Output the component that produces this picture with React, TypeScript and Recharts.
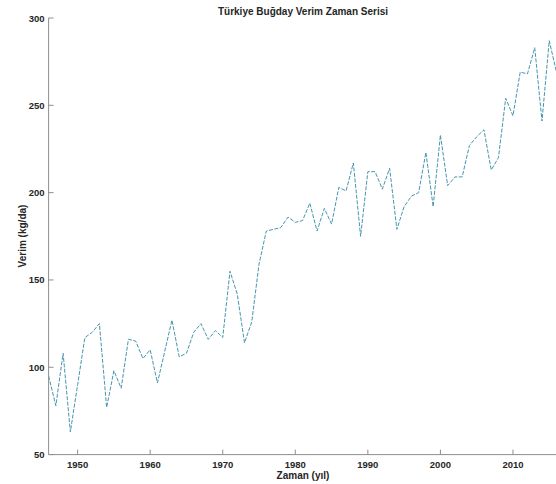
import { LineChart, Line, XAxis, YAxis } from 'recharts';

const years = [
  1946, 1947, 1948, 1949, 1950, 1951, 1952, 1953, 1954, 1955, 1956, 1957,
  1958, 1959, 1960, 1961, 1962, 1963, 1964, 1965, 1966, 1967, 1968, 1969,
  1970, 1971, 1972, 1973, 1974, 1975, 1976, 1977, 1978, 1979, 1980, 1981,
  1982, 1983, 1984, 1985, 1986, 1987, 1988, 1989, 1990, 1991, 1992, 1993,
  1994, 1995, 1996, 1997, 1998, 1999, 2000, 2001, 2002, 2003, 2004, 2005,
  2006, 2007, 2008, 2009, 2010, 2011, 2012, 2013, 2014, 2015, 2016
];

// verim, kg/da
const yields = [
  95, 78, 108, 63, 90, 117, 120, 125, 77, 98, 88, 116,
  115, 105, 110, 91, 109, 127, 106, 108, 120, 125, 116, 121,
  117, 155, 142, 114, 126, 159, 178, 179, 180, 186, 183, 184,
  194, 178, 191, 182, 203, 201, 217, 175, 212, 212, 202, 214,
  179, 192, 198, 200, 223, 192, 233, 204, 209, 209, 227, 232,
  236, 213, 220, 254, 244, 269, 268, 283, 241, 287, 269
];

const xTicks = [1950, 1960, 1970, 1980, 1990, 2000, 2010];
const yTicks = [50, 100, 150, 200, 250, 300];

const FONT = '"Liberation Sans", Arial, sans-serif';
const AXIS = '#8f8f8f';
const TEXT = '#262626';
const LINE = '#4596ae';

const data = years.map((y, i) => ({ year: y, value: yields[i] }));

function BottomTick({ x, y, payload }: any) {
  return (
    <g>
      <line x1={x} x2={x} y1={y} y2={y - 5} stroke={AXIS} />
      <text x={x} y={y + 9.5} textAnchor="middle" dominantBaseline="central"
        fontFamily={FONT} fontSize={9.5} fontWeight="bold" fill={TEXT}>
        {payload.value}
      </text>
    </g>
  );
}

function TopTick({ x, y }: any) {
  return <line x1={x} x2={x} y1={y} y2={y + 5} stroke={AXIS} />;
}

function LeftTick({ x, y, payload }: any) {
  return (
    <g>
      <line x1={x} x2={x + 5} y1={y} y2={y} stroke={AXIS} />
      <text x={x - 4} y={y} textAnchor="end" dominantBaseline="central"
        fontFamily={FONT} fontSize={9.5} fontWeight="bold" fill={TEXT}>
        {payload.value}
      </text>
    </g>
  );
}

export default function App() {
  return (
    <div style={{ position: 'fixed', left: 0, top: 0, width: 556, height: 484, overflow: 'hidden', background: '#fff' }}>
      <LineChart width={560} height={484} data={data}
        margin={{ top: 18, right: 3.5, bottom: 0, left: 0 }}>
        <XAxis xAxisId="top" orientation="top" dataKey="year" type="number"
          domain={[1946, 2016]} ticks={xTicks} interval={0} height={0}
          tickSize={0} tickMargin={0} tick={<TopTick />} tickLine={false}
          axisLine={{ stroke: AXIS }} />
        <XAxis dataKey="year" type="number" domain={[1946, 2016]} ticks={xTicks}
          interval={0} height={29.4} tickSize={0} tickMargin={0}
          tick={<BottomTick />} tickLine={false} axisLine={{ stroke: AXIS }} />
        <YAxis type="number" domain={[50, 300]} ticks={yTicks} interval={0}
          width={48.6} tickSize={0} tickMargin={0} tick={<LeftTick />}
          tickLine={false} axisLine={{ stroke: AXIS }} />
        <Line type="linear" dataKey="value" stroke={LINE} strokeWidth={1}
          strokeDasharray="4 1.5" dot={false} isAnimationActive={false} />
      </LineChart>

      <div style={{ position: 'absolute', left: 203, width: 200, top: 5, textAlign: 'center',
        fontFamily: FONT, fontSize: 10, fontWeight: 'bold', color: TEXT, lineHeight: '14px' }}>
        Türkiye Buğday Verim Zaman Serisi
      </div>
      <div style={{ position: 'absolute', left: 253, width: 100, top: 469, textAlign: 'center',
        fontFamily: FONT, fontSize: 10, fontWeight: 'bold', color: TEXT, lineHeight: '14px' }}>
        Zaman (yıl)
      </div>
      <div style={{ position: 'absolute', left: 23, top: 236, width: 100, marginLeft: -50, marginTop: -7,
        textAlign: 'center', transform: 'rotate(-90deg)', fontFamily: FONT, fontSize: 10,
        fontWeight: 'bold', color: TEXT, lineHeight: '14px' }}>
        Verim (kg/da)
      </div>
    </div>
  );
}
